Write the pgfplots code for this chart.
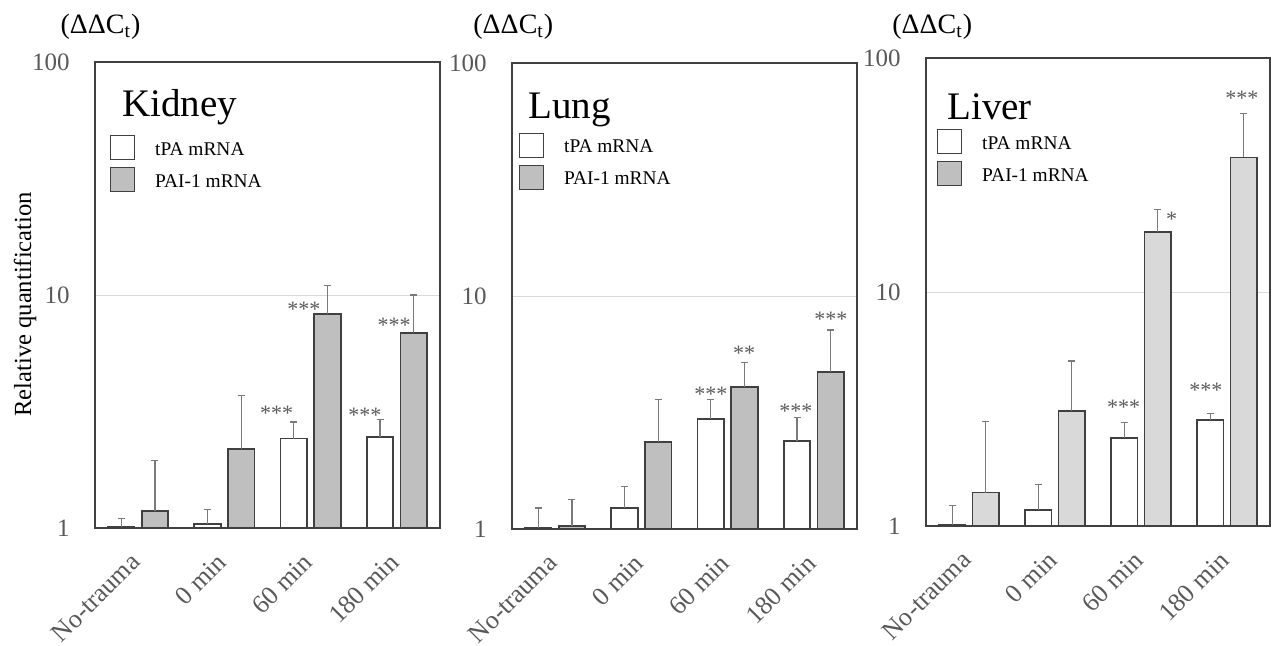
\documentclass[border=0pt]{standalone}
\usepackage{pgfplots}
\pgfplotsset{compat=1.18}
\usepackage{fontspec}
\setmainfont{Liberation Serif}
\definecolor{tickgray}{HTML}{595959}
\definecolor{axgray}{HTML}{404040}
\definecolor{pai}{HTML}{BFBFBF}
\definecolor{pailight}{HTML}{D9D9D9}
\definecolor{errgray}{HTML}{7A7A7A}
\definecolor{stargray}{HTML}{5A5A5A}
\definecolor{gridgray}{HTML}{D9D9D9}
\tikzset{starnode/.style={font=\fontsize{11pt}{12pt}\selectfont, text=stargray, inner sep=0pt, anchor=center, yshift=-1.5pt}}

\begin{document}
\begin{tikzpicture}
\path[use as bounding box] (0pt,0pt) rectangle (639pt,-323pt);

% ---------------- Kidney ----------------
\begin{axis}[
  scale only axis, width=172.5pt, height=233pt,
  at={(47.5pt,-264pt)}, anchor=south west, clip=false,
  ymode=log, ymin=1, ymax=100, ytick={1,10,100}, yticklabels={1,10,100},
  xmin=-0.5, xmax=3.5, xtick={0,1,2,3},
  xticklabels={No-trauma,0 min,60 min,180 min},
  xticklabel style={rotate=45, anchor=east, inner sep=0pt, xshift=-11.3pt, yshift=-9.6pt,
    font=\fontsize{13pt}{15pt}\selectfont, text=tickgray},
  yticklabel style={anchor=east, inner sep=0pt, xshift=-12.5pt,
    font=\fontsize{12.5pt}{14pt}\selectfont, text=tickgray},
  major tick length=0pt, minor tick length=0pt,
  ymajorgrids, grid style={gridgray, line width=0.5pt},
  axis line style={axgray, line width=0.7pt},
  legend image code/.code={\draw[#1, draw=axgray, line width=0.6pt] (0pt,-4.75pt) rectangle (12pt,7.25pt);},
  legend style={draw=none, fill=none, anchor=north west, inner sep=0pt, outer sep=0pt,
    row sep=2.5pt, font=\fontsize{9.7pt}{11pt}\selectfont, column sep=8pt,
    at={(rel axis cs:0.0435,0.843)}},
  legend cell align=left,
  ylabel={Relative quantification},
  ylabel style={at={(rel axis cs:-0.203,0.48)}, anchor=center, font=\fontsize{12.3pt}{14pt}\selectfont},
  ]
\addlegendimage{fill=white}
\addlegendentry{tPA mRNA}
\addlegendimage{fill=pai}
\addlegendentry{PAI-1 mRNA}
\addplot[ybar, bar width=13.25pt, bar shift=0pt, fill=white, draw=axgray, line width=0.9pt, forget plot,
    error bars/.cd, y dir=plus, y explicit,
    error bar style={errgray, line width=0.6pt},
    error mark options={rotate=90, mark size=1.75pt, errgray, line width=0.6pt}]
  coordinates {(-0.195,1.01) +- (0,0.09) (0.805,1.04) +- (0,0.16) (1.805,2.42) +- (0,0.43) (2.805,2.46) +- (0,0.47)};
\addplot[ybar, bar width=13.25pt, bar shift=0pt, fill=pai, draw=axgray, line width=0.9pt, forget plot,
    error bars/.cd, y dir=plus, y explicit,
    error bar style={errgray, line width=0.6pt},
    error mark options={rotate=90, mark size=1.75pt, errgray, line width=0.6pt}]
  coordinates {(0.195,1.18) +- (0,0.77) (1.195,2.19) +- (0,1.51) (2.195,8.27) +- (0,2.73) (3.195,6.86) +- (0,3.14)};
\node[anchor=base west, font=\fontsize{19.5pt}{22pt}\selectfont, inner sep=0pt] at (rel axis cs:0.078,0.882) {Kidney};
\node[anchor=base west, font=\fontsize{14pt}{16pt}\selectfont, inner sep=0pt] at (rel axis cs:-0.101,1.062) {(ΔΔC\textsubscript{t})};
\node[starnode] at (axis cs:1.607,3.19) {***};
\node[starnode] at (axis cs:1.923,8.97) {***};
\node[starnode] at (axis cs:2.630,3.14) {***};
\node[starnode] at (axis cs:2.967,7.61) {***};
\end{axis}

% ---------------- Lung ----------------
\begin{axis}[
  scale only axis, width=172.5pt, height=233pt,
  at={(256pt,-264.5pt)}, anchor=south west, clip=false,
  ymode=log, ymin=1, ymax=100, ytick={1,10,100}, yticklabels={1,10,100},
  xmin=-0.5, xmax=3.5, xtick={0,1,2,3},
  xticklabels={No-trauma,0 min,60 min,180 min},
  xticklabel style={rotate=45, anchor=east, inner sep=0pt, xshift=-11.3pt, yshift=-9.6pt,
    font=\fontsize{13pt}{15pt}\selectfont, text=tickgray},
  yticklabel style={anchor=east, inner sep=0pt, xshift=-12.5pt,
    font=\fontsize{12.5pt}{14pt}\selectfont, text=tickgray},
  major tick length=0pt, minor tick length=0pt,
  ymajorgrids, grid style={gridgray, line width=0.5pt},
  axis line style={axgray, line width=0.7pt},
  legend image code/.code={\draw[#1, draw=axgray, line width=0.6pt] (0pt,-4.75pt) rectangle (12pt,7.25pt);},
  legend style={draw=none, fill=none, anchor=north west, inner sep=0pt, outer sep=0pt,
    row sep=2.5pt, font=\fontsize{9.7pt}{11pt}\selectfont, column sep=8pt,
    at={(rel axis cs:0.020,0.85)}},
  legend cell align=left,
  ]
\addlegendimage{fill=white}
\addlegendentry{tPA mRNA}
\addlegendimage{fill=pai}
\addlegendentry{PAI-1 mRNA}
\addplot[ybar, bar width=13.25pt, bar shift=0pt, fill=white, draw=axgray, line width=0.9pt, forget plot,
    error bars/.cd, y dir=plus, y explicit,
    error bar style={errgray, line width=0.6pt},
    error mark options={rotate=90, mark size=1.75pt, errgray, line width=0.6pt}]
  coordinates {(-0.195,1.01) +- (0,0.22) (0.805,1.23) +- (0,0.29) (1.805,2.97) +- (0,0.62) (2.805,2.39) +- (0,0.61)};
\addplot[ybar, bar width=13.25pt, bar shift=0pt, fill=pai, draw=axgray, line width=0.9pt, forget plot,
    error bars/.cd, y dir=plus, y explicit,
    error bar style={errgray, line width=0.6pt},
    error mark options={rotate=90, mark size=1.75pt, errgray, line width=0.6pt}]
  coordinates {(0.195,1.03) +- (0,0.31) (1.195,2.36) +- (0,1.23) (2.195,4.06) +- (0,1.11) (3.195,4.73) +- (0,2.42)};
\node[anchor=base west, font=\fontsize{19.5pt}{22pt}\selectfont, inner sep=0pt] at (rel axis cs:0.046,0.88) {Lung};
\node[anchor=base west, font=\fontsize{14pt}{16pt}\selectfont, inner sep=0pt] at (rel axis cs:-0.113,1.064) {(ΔΔC\textsubscript{t})};
\node[starnode] at (axis cs:1.805,3.91) {***};
\node[starnode] at (axis cs:2.192,5.87) {**};
\node[starnode] at (axis cs:2.791,3.31) {***};
\node[starnode] at (axis cs:3.196,8.15) {***};
\end{axis}

% ---------------- Liver ----------------
\begin{axis}[
  scale only axis, width=172pt, height=234pt,
  at={(463pt,-263pt)}, anchor=south west, clip=false,
  ymode=log, ymin=1, ymax=100, ytick={1,10,100}, yticklabels={1,10,100},
  xmin=-0.5, xmax=3.5, xtick={0,1,2,3},
  xticklabels={No-trauma,0 min,60 min,180 min},
  xticklabel style={rotate=45, anchor=east, inner sep=0pt, xshift=-11.3pt, yshift=-9.6pt,
    font=\fontsize{13pt}{15pt}\selectfont, text=tickgray},
  yticklabel style={anchor=east, inner sep=0pt, xshift=-12.5pt,
    font=\fontsize{12.5pt}{14pt}\selectfont, text=tickgray},
  major tick length=0pt, minor tick length=0pt,
  ymajorgrids, grid style={gridgray, line width=0.5pt},
  axis line style={axgray, line width=0.7pt},
  legend image code/.code={\draw[#1, draw=axgray, line width=0.6pt] (0pt,-4.75pt) rectangle (12pt,7.25pt);},
  legend style={draw=none, fill=none, anchor=north west, inner sep=0pt, outer sep=0pt,
    row sep=2.5pt, font=\fontsize{9.7pt}{11pt}\selectfont, column sep=8pt,
    at={(rel axis cs:0.032,0.848)}},
  legend cell align=left,
  ]
\addlegendimage{fill=white}
\addlegendentry{tPA mRNA}
\addlegendimage{fill=pai}
\addlegendentry{PAI-1 mRNA}
\addplot[ybar, bar width=13.25pt, bar shift=0pt, fill=white, draw=axgray, line width=0.9pt, forget plot,
    error bars/.cd, y dir=plus, y explicit,
    error bar style={errgray, line width=0.6pt},
    error mark options={rotate=90, mark size=1.75pt, errgray, line width=0.6pt}]
  coordinates {(-0.195,1.01) +- (0,0.21) (0.805,1.175) +- (0,0.335) (1.805,2.38) +- (0,0.39) (2.805,2.84) +- (0,0.18)};
\addplot[ybar, bar width=13.25pt, bar shift=0pt, fill=pailight, draw=axgray, line width=0.9pt, forget plot,
    error bars/.cd, y dir=plus, y explicit,
    error bar style={errgray, line width=0.6pt},
    error mark options={rotate=90, mark size=1.75pt, errgray, line width=0.6pt}]
  coordinates {(0.195,1.39) +- (0,1.41) (1.195,3.09) +- (0,1.98) (2.195,18.1) +- (0,4.4) (3.195,37.6) +- (0,20.3)};
\node[anchor=base west, font=\fontsize{19.5pt}{22pt}\selectfont, inner sep=0pt] at (rel axis cs:0.061,0.868) {Liver};
\node[anchor=base west, font=\fontsize{14pt}{16pt}\selectfont, inner sep=0pt] at (rel axis cs:-0.099,1.053) {(ΔΔC\textsubscript{t})};
\node[starnode] at (axis cs:1.799,3.31) {***};
\node[starnode] at (axis cs:2.357,21.0) {*};
\node[starnode] at (axis cs:2.754,3.91) {***};
\node[starnode] at (axis cs:3.174,69.6) {***};
\end{axis}
\end{tikzpicture}
\end{document}
